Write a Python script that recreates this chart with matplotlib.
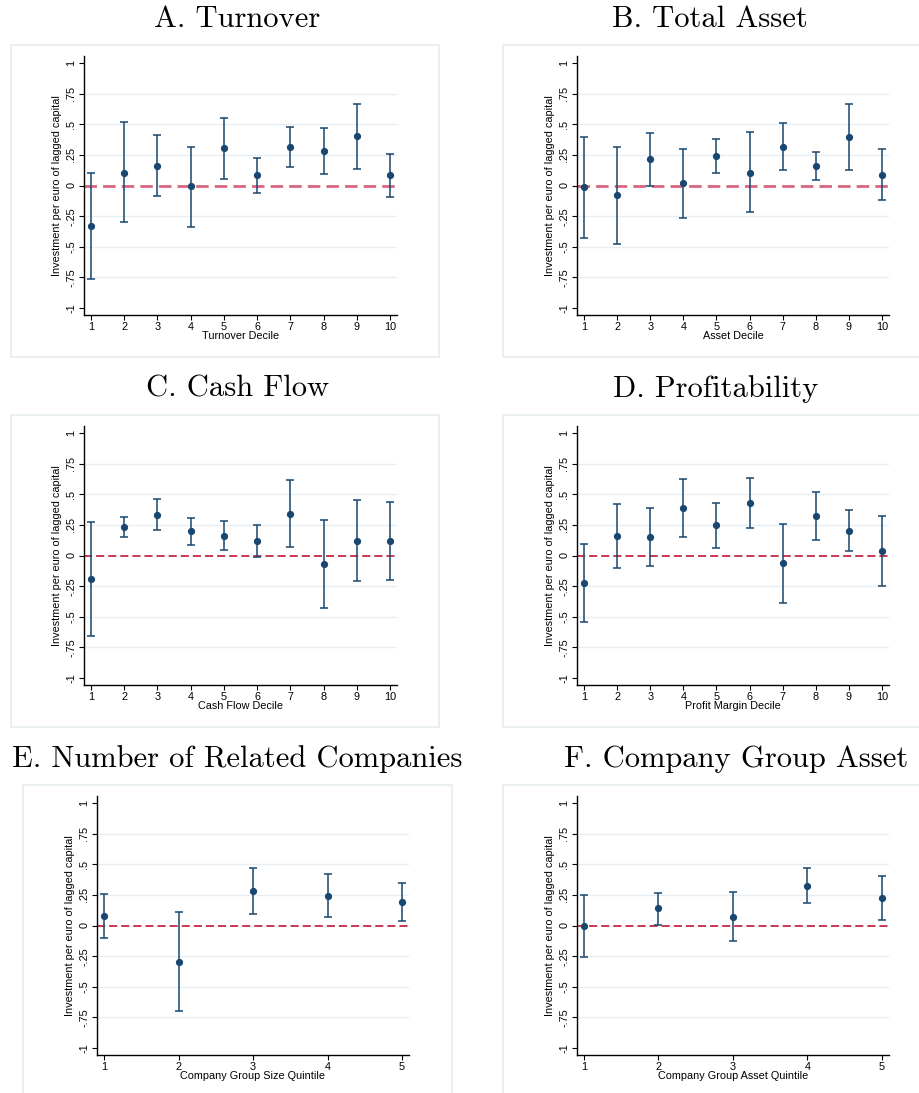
import matplotlib
matplotlib.use("Agg")
import matplotlib.pyplot as plt
from matplotlib.patches import Rectangle
import numpy as np

# Point estimates and 95% confidence bounds by bin
turnover_est = [-0.33, 0.106, 0.163, -0.008, 0.303, 0.084, 0.314, 0.285, 0.401, 0.084]
turnover_lo = [-0.767, -0.30, -0.087, -0.339, 0.057, -0.062, 0.152, 0.092, 0.136, -0.095]
turnover_hi = [0.106, 0.52, 0.41, 0.317, 0.55, 0.228, 0.477, 0.469, 0.669, 0.26]

asset_est = [-0.011, -0.076, 0.214, 0.019, 0.241, 0.106, 0.317, 0.163, 0.396, 0.087]
asset_lo = [-0.425, -0.477, -0.003, -0.268, 0.10, -0.217, 0.125, 0.046, 0.125, -0.122]
asset_hi = [0.398, 0.317, 0.431, 0.301, 0.382, 0.434, 0.509, 0.276, 0.669, 0.295]

cash_est = [-0.19, 0.234, 0.334, 0.196, 0.163, 0.12, 0.342, -0.071, 0.122, 0.12]
cash_lo = [-0.655, 0.149, 0.207, 0.082, 0.046, -0.016, 0.068, -0.429, -0.212, -0.204]
cash_hi = [0.274, 0.318, 0.459, 0.31, 0.283, 0.253, 0.617, 0.288, 0.454, 0.44]

profit_est = [-0.226, 0.158, 0.152, 0.389, 0.247, 0.429, -0.065, 0.321, 0.204, 0.033]
profit_lo = [-0.543, -0.103, -0.084, 0.152, 0.0625, 0.226, -0.389, 0.128, 0.035, -0.253]
profit_hi = [0.095, 0.418, 0.389, 0.625, 0.429, 0.636, 0.258, 0.519, 0.375, 0.323]

groupsize_est = [0.079, -0.297, 0.283, 0.243, 0.193]
groupsize_lo = [-0.098, -0.700, 0.093, 0.068, 0.038]
groupsize_hi = [0.256, 0.109, 0.469, 0.417, 0.346]

groupasset_est = [-0.003, 0.139, 0.073, 0.323, 0.226]
groupasset_lo = [-0.255, 0.005, -0.130, 0.182, 0.041]
groupasset_hi = [0.253, 0.269, 0.274, 0.467, 0.408]

titles = ["A. Turnover", "B. Total Asset", "C. Cash Flow", "D. Profitability",
          "E. Number of Related Companies", "F. Company Group Asset"]
xlabels = ["Turnover Decile", "Asset Decile", "Cash Flow Decile", "Profit Margin Decile",
           "Company Group Size Quintile", "Company Group Asset Quintile"]
ylabel = "Investment per euro of lagged capital"
ytick_vals = [-1, -0.75, -0.5, -0.25, 0, 0.25, 0.5, 0.75, 1]
ytick_text = ["-1", "-.75", "-.5", "-.25", "0", ".25", ".5", ".75", "1"]

W, H = 920, 1093
fig = plt.figure(figsize=(W / 100, H / 100), dpi=100)
fig.patch.set_facecolor("white")

NAVY = "#1a476f"
SANS = "Liberation Sans"
FS = 7.8


def px_axes(left, right, top, bottom):
    return fig.add_axes([left / W, 1 - bottom / H, (right - left) / W, (bottom - top) / H])


def frame(x0, x1, y0, y1):
    fig.add_artist(Rectangle((x0 / W, 1 - y1 / H), (x1 - x0) / W, (y1 - y0) / H,
                             transform=fig.transFigure, fill=False,
                             edgecolor="#e6eef0", lw=1.2, zorder=0))


panels = [
    # est, lo, hi, axes box, frame box, title centre (x, y), zero-line style
    (turnover_est, turnover_lo, turnover_hi, (84, 397, 56, 315), (11, 439, 45, 357), (237, 19), ("#d9667f", 2.0)),
    (asset_est, asset_lo, asset_hi, (577, 889, 56, 315), (503, 935, 45, 357), (710, 19), ("#d9667f", 2.0)),
    (cash_est, cash_lo, cash_hi, (84, 397, 426, 685), (11, 439, 415, 727), (238, 389), ("#c42a44", 1.3)),
    (profit_est, profit_lo, profit_hi, (577, 889, 426, 685), (503, 935, 415, 727), (716, 389), ("#c42a44", 1.3)),
    (groupsize_est, groupsize_lo, groupsize_hi, (97, 409, 796, 1055), (23, 452, 785, 1110), (237, 759), ("#c42a44", 1.3)),
    (groupasset_est, groupasset_lo, groupasset_hi, (577, 889, 796, 1055), (503, 935, 785, 1110), (736, 759), ("#c42a44", 1.3)),
]

for i, (est, lo, hi, box, fbox, tpos, zstyle) in enumerate(panels):
    frame(*fbox)
    ax = px_axes(*box)
    est = np.asarray(est)
    lo = np.asarray(lo)
    hi = np.asarray(hi)
    n = len(est)
    x = np.arange(1, n + 1)

    # horizontal grid
    for g in [-0.75, -0.5, -0.25, 0.25, 0.5, 0.75]:
        ax.axhline(g, color="#e6eef1", lw=1.0, zorder=0.5)
    ax.axhline(0, color=zstyle[0], lw=zstyle[1], dashes=(4.5, 2.2), zorder=1.5)

    ax.errorbar(x, est, yerr=[est - lo, hi - est], fmt="o", color=NAVY,
                ecolor=NAVY, elinewidth=1.1, capsize=3, capthick=1.1,
                markersize=4.2, zorder=3)

    step = 7 / ((box[1] - box[0] - 14) / (n - 1))
    ax.set_xlim(1 - step, n + step)
    ax.set_ylim(-1.057, 1.057)
    ax.set_xticks(x)
    ax.set_xticklabels([str(v) for v in x], fontsize=FS, family=SANS)
    ax.set_yticks(ytick_vals)
    ax.set_yticklabels(ytick_text, fontsize=FS, family=SANS, rotation=90, va="center")
    ax.tick_params(axis="both", direction="out", length=3.5, width=0.8, color="black", pad=2)
    ax.tick_params(axis="x", pad=1.5)

    for s in ["top", "right"]:
        ax.spines[s].set_visible(False)
    for s in ["left", "bottom"]:
        ax.spines[s].set_linewidth(1.0)
        ax.spines[s].set_color("black")
    ax.set_facecolor("none")

    ax.set_xlabel(xlabels[i], fontsize=FS, family=SANS, labelpad=-1)
    ax.set_ylabel(ylabel, fontsize=FS, family=SANS, labelpad=3)

    fig.text(tpos[0] / W, 1 - tpos[1] / H, titles[i], family="cmr10",
             fontsize=22, ha="center", va="center")

fig.savefig("out.png", dpi=100, facecolor="white")
